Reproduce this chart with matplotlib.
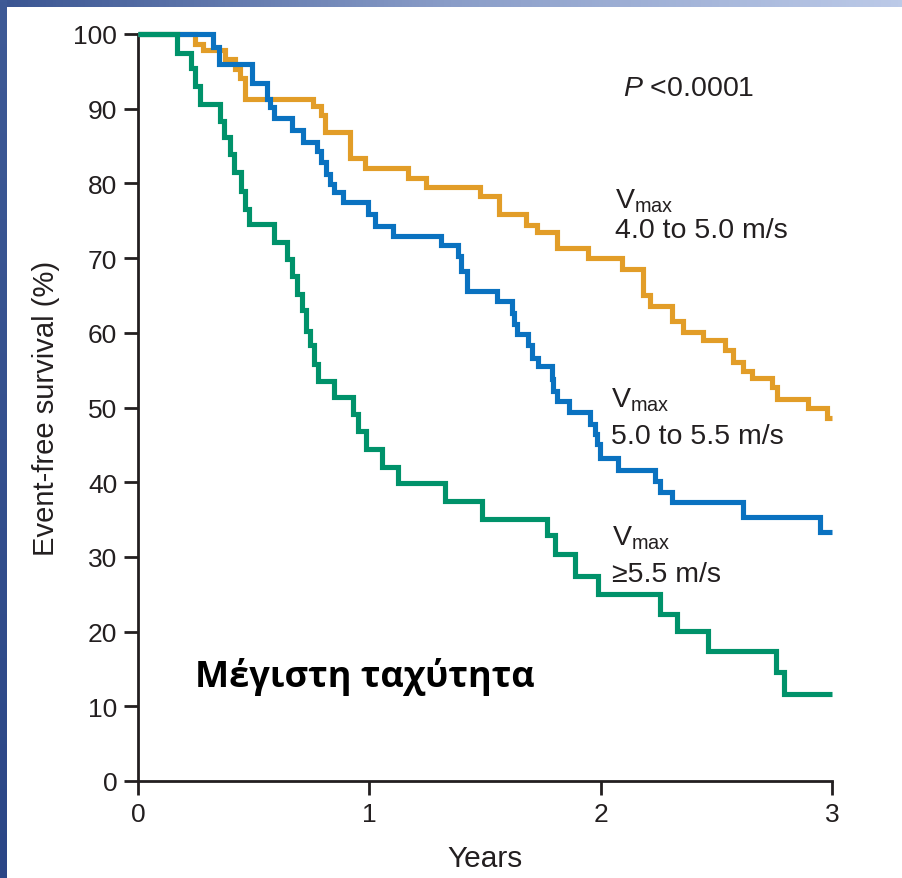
import matplotlib
matplotlib.use("Agg")
import matplotlib.pyplot as plt
import numpy as np
from matplotlib.colors import LinearSegmentedColormap

# ---------------- data ----------------
years_ticks = [0, 1, 2, 3]
surv_ticks = list(range(0, 101, 10))

# Vmax 4.0 to 5.0 m/s (orange)
orange_t = [0, 0.246, 0.282, 0.376, 0.419, 0.441, 0.463, 0.755, 0.790, 0.808,
            0.917, 0.981, 1.169, 1.245, 1.479, 1.562, 1.676, 1.724, 1.810, 1.947,
            2.093, 2.182, 2.214, 2.307, 2.358, 2.444, 2.538, 2.574, 2.617, 2.653,
            2.740, 2.761, 2.898, 2.977, 3.0]
orange_s = [100, 98.6, 97.8, 96.7, 95.3, 94.1, 91.3, 90.3, 89.1, 86.9,
            83.4, 82.1, 80.7, 79.5, 78.3, 75.9, 74.4, 73.5, 71.3, 70.0,
            68.6, 65.1, 63.6, 61.6, 60.1, 59.1, 57.7, 56.1, 54.9, 53.9,
            52.7, 51.1, 50.0, 48.6, 48.6]

# Vmax 5.0 to 5.5 m/s (blue)
blue_t = [0, 0.326, 0.350, 0.491, 0.559, 0.571, 0.588, 0.664, 0.712, 0.772,
          0.793, 0.813, 0.830, 0.847, 0.888, 0.996, 1.025, 1.101, 1.309, 1.385,
          1.395, 1.421, 1.551, 1.616, 1.626, 1.637, 1.687, 1.702, 1.731, 1.788,
          1.796, 1.810, 1.865, 1.954, 1.976, 1.986, 1.997, 2.077, 2.235, 2.257,
          2.307, 2.617, 2.949, 3.0]
blue_s = [100, 98.3, 96.0, 93.4, 91.3, 90.2, 88.7, 87.1, 85.6, 84.4,
          82.8, 81.3, 79.9, 78.8, 77.5, 75.9, 74.3, 73.0, 71.7, 70.3,
          68.3, 65.6, 64.2, 62.7, 61.2, 59.8, 58.3, 56.6, 55.5, 53.8,
          52.2, 50.9, 49.4, 47.8, 46.5, 45.1, 43.3, 41.7, 40.2, 38.7,
          37.4, 35.4, 33.4, 33.4]

# Vmax >= 5.5 m/s (green)
green_t = [0, 0.167, 0.229, 0.246, 0.268, 0.355, 0.373, 0.398, 0.415, 0.445,
           0.463, 0.481, 0.589, 0.643, 0.664, 0.686, 0.708, 0.726, 0.744, 0.762,
           0.780, 0.848, 0.930, 0.953, 0.984, 1.053, 1.125, 1.327, 1.489, 1.768,
           1.803, 1.889, 1.990, 2.257, 2.329, 2.466, 2.758, 2.794, 3.0]
green_s = [100, 97.5, 95.4, 93.1, 90.6, 88.4, 86.2, 83.9, 81.5, 79.0,
           76.6, 74.5, 72.1, 69.9, 67.6, 65.2, 63.0, 60.3, 58.3, 55.8,
           53.6, 51.4, 49.1, 46.9, 44.5, 42.1, 39.9, 37.5, 35.1, 32.9,
           30.4, 27.5, 25.0, 22.4, 20.1, 17.4, 14.6, 11.6, 11.6]

group_labels = ["4.0 to 5.0 m/s", "5.0 to 5.5 m/s", "\u22655.5 m/s"]
p_text = "$P$ <0.0001"
title_text = "Μέγιστη ταχύτητα"
xlabel = "Years"
ylabel = "Event-free survival (%)"

# ---------------- style ----------------
plt.rcParams["font.family"] = ["Liberation Sans", "DejaVu Sans"]
plt.rcParams["mathtext.fontset"] = "custom"
plt.rcParams["mathtext.rm"] = "Liberation Sans"
plt.rcParams["mathtext.it"] = "Liberation Sans:italic"

ORANGE = "#E29D28"
BLUE = "#0A72C0"
GREEN = "#00926A"
AXC = "#231F20"
TXT = "#231F20"

W, H = 902, 879
fig = plt.figure(figsize=(W / 100, H / 100), dpi=100)
fig.patch.set_facecolor("white")

# slide frame: top gradient bar and left bar
bar_ax = fig.add_axes([0, 1 - 8 / H, 1, 8 / H])
grad = np.linspace(0, 1, 256).reshape(1, -1)
cm = LinearSegmentedColormap.from_list("frame", ["#3A5592", "#8A9DC8", "#BCCAE8"])
bar_ax.imshow(grad, aspect="auto", cmap=cm, extent=[0, 1, 0, 1])
bar_ax.set_axis_off()
left_ax = fig.add_axes([0, 0, 7 / W, 1])
vgrad = np.linspace(0, 1, 256).reshape(-1, 1)
cm2 = LinearSegmentedColormap.from_list("frame2", ["#2B4686", "#3E5A96"])
left_ax.imshow(vgrad, aspect="auto", cmap=cm2, extent=[0, 1, 0, 1], origin="lower")
left_ax.set_axis_off()

ax = fig.add_axes([138 / W, 97 / H, 694 / W, 747 / H])
ax.set_facecolor("white")

lw = 3.7
for t, s, c in [(orange_t, orange_s, ORANGE), (blue_t, blue_s, BLUE), (green_t, green_s, GREEN)]:
    ax.step(t, s, where="post", color=c, lw=lw, clip_on=False,
            solid_joinstyle="miter", solid_capstyle="butt", zorder=3)

ax.set_xlim(0, 3)
ax.set_ylim(0, 100)
ax.set_xticks(years_ticks)
ax.set_yticks(surv_ticks)
ax.set_xticklabels([str(v) for v in years_ticks])
ax.set_yticklabels([str(v) for v in surv_ticks])
for sp in ["top", "right"]:
    ax.spines[sp].set_visible(False)
for sp in ["left", "bottom"]:
    ax.spines[sp].set_linewidth(2)
    ax.spines[sp].set_color(AXC)
ax.tick_params(direction="out", length=10, width=2, color=AXC,
               labelsize=19, labelcolor=TXT, pad=5)

ax.set_xlabel(xlabel, fontsize=21.5, color=TXT)
ax.set_ylabel(ylabel, fontsize=21, color=TXT)
ax.xaxis.set_label_coords(0.5, -0.084)
ax.yaxis.set_label_coords(-0.113, 0.5)

# annotations
FS = 20.5
ax.text(2.095, 91.8, p_text, fontsize=FS, color=TXT, ha="left", va="baseline")
vmax = "V$_{\\mathrm{max}}$"
ann = [(2.062, 76.8, 72.8), (2.045, 50.2, 45.3), (2.048, 31.7, 26.8)]
for (x, y1, y2), lab in zip(ann, group_labels):
    ax.text(x, y1, vmax, fontsize=FS, color=TXT, ha="left", va="baseline")
    ax.text(x, y2, lab, fontsize=FS, color=TXT, ha="left", va="baseline")

ax.text(0.246, 12.76, title_text, fontsize=26, fontweight="bold", color="black",
        family=["Open Sans", "DejaVu Sans"], ha="left", va="baseline")

fig.savefig("out.png", dpi=100, facecolor="white")
